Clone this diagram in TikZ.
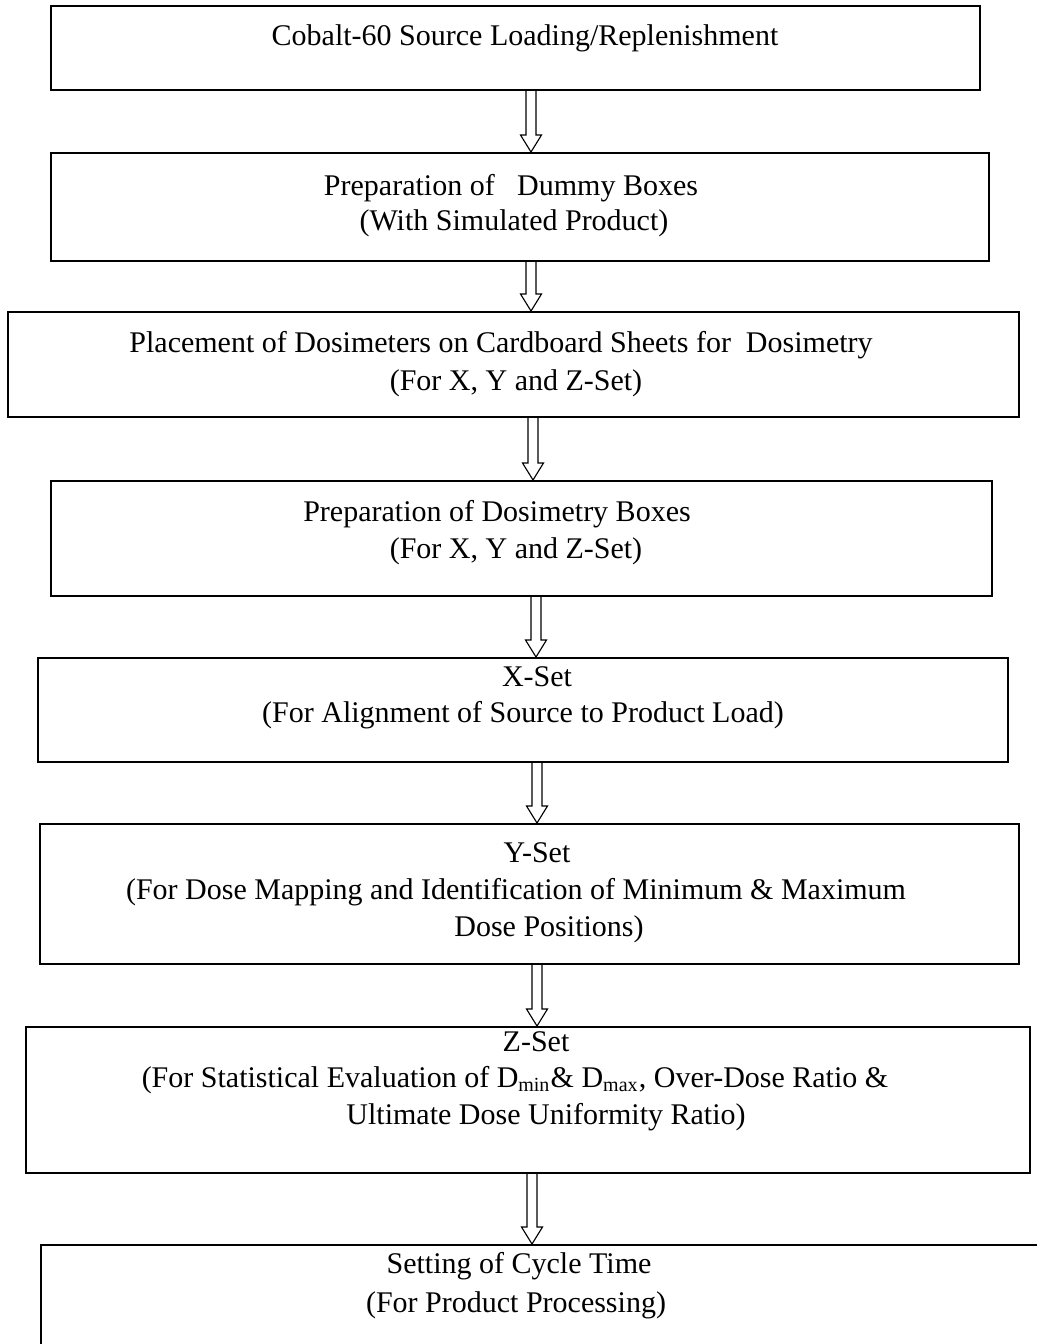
\documentclass[tikz,border=0pt]{standalone}
\usepackage{fontspec}
\setmainfont{Liberation Serif}
\usetikzlibrary{
  calc,
  fit
}

\tikzset{
  stage/.style={draw, line width=0.8pt, inner sep=0pt},
  caption/.style={anchor=base, inner sep=0pt, font=\fontsize{12}{14.5}\selectfont},
  flow/.style={
    line width=0.45pt,
    to path={
      let \p1=(\tikztostart), \p2=(\tikztotarget) in
      (\x1-2pt,\y1) -- (\x1-2pt,\y2+6.8pt) -- (\x1-4.2pt,\y2+6.8pt) -- (\x1,\y2)
      -- (\x1+4.2pt,\y2+6.8pt) -- (\x1+2pt,\y2+6.8pt) -- (\x1+2pt,\y1)
    }
  }
}

\begin{document}
\begin{tikzpicture}[x=0.4pt, y=-0.4pt]

\useasboundingbox (0,0) rectangle (1037,1344);

% stages
\node [stage, fit={(51,6) (980,90)}] (source) {};
\node [stage, fit={(51,153) (989,261)}] (dummy) {};
\node [stage, fit={(8,312) (1019,417)}] (sheets) {};
\node [stage, fit={(51,481) (992,596)}] (dosbox) {};
\node [stage, fit={(38,658) (1008,762)}] (xset) {};
\node [stage, fit={(40,824) (1019,964)}] (yset) {};
\node [stage, fit={(26,1027) (1030,1173)}] (zset) {};
\node [stage, fit={(41,1245) (1070,1400)}] (cycle) {};

% texts
\node [caption] (source-title) at (525,46) {Cobalt-60 Source Loading/Replenishment};

\node [caption] (dummy-title) at (511,196) {Preparation of\ \ \ Dummy Boxes};
\node [caption] (dummy-note) at (514,231) {(With Simulated Product)};

\node [caption] (sheets-title) at (501,352) {Placement of Dosimeters on Cardboard Sheets for\ \ Dosimetry};
\node [caption] (sheets-note) at (516,391) {(For X, Y and Z-Set)};

\node [caption] (dosbox-title) at (497,521) {Preparation of Dosimetry Boxes};
\node [caption] (dosbox-note) at (516,558) {(For X, Y and Z-Set)};

\node [caption] (xset-title) at (537,686) {X-Set};
\node [caption] (xset-note) at (523,722) {(For Alignment of Source to Product Load)};

\node [caption] (yset-title) at (537,862) {Y-Set};
\node [caption] (yset-note) at (516,899) {(For Dose Mapping and Identification of Minimum \& Maximum};
\node [caption] (yset-more) at (549,936) {Dose Positions)};

\node [caption] (zset-title) at (536,1051) {Z-Set};
\node [caption] (zset-note) at (515,1087) {(For Statistical Evaluation of D\textsubscript{min}\& D\textsubscript{max}, Over-Dose Ratio \&};
\node [caption] (zset-more) at (546,1124) {Ultimate Dose Uniformity Ratio)};

\node [caption] (cycle-title) at (519,1273) {Setting of Cycle Time};
\node [caption] (cycle-note) at (516,1312) {(For Product Processing)};

% arrows
\draw [flow] (source.south -| 531,0) to (dummy.north);
\draw [flow] (dummy.south -| 531,0) to (sheets.north);
\draw [flow] (sheets.south -| 533,0) to (dosbox.north);
\draw [flow] (dosbox.south -| 536,0) to (xset.north);
\draw [flow] (xset.south -| 537,0) to (yset.north);
\draw [flow] (yset.south -| 537,0) to (zset.north);
\draw [flow] (zset.south -| 532,0) to (cycle.north);

\end{tikzpicture}
\end{document}
